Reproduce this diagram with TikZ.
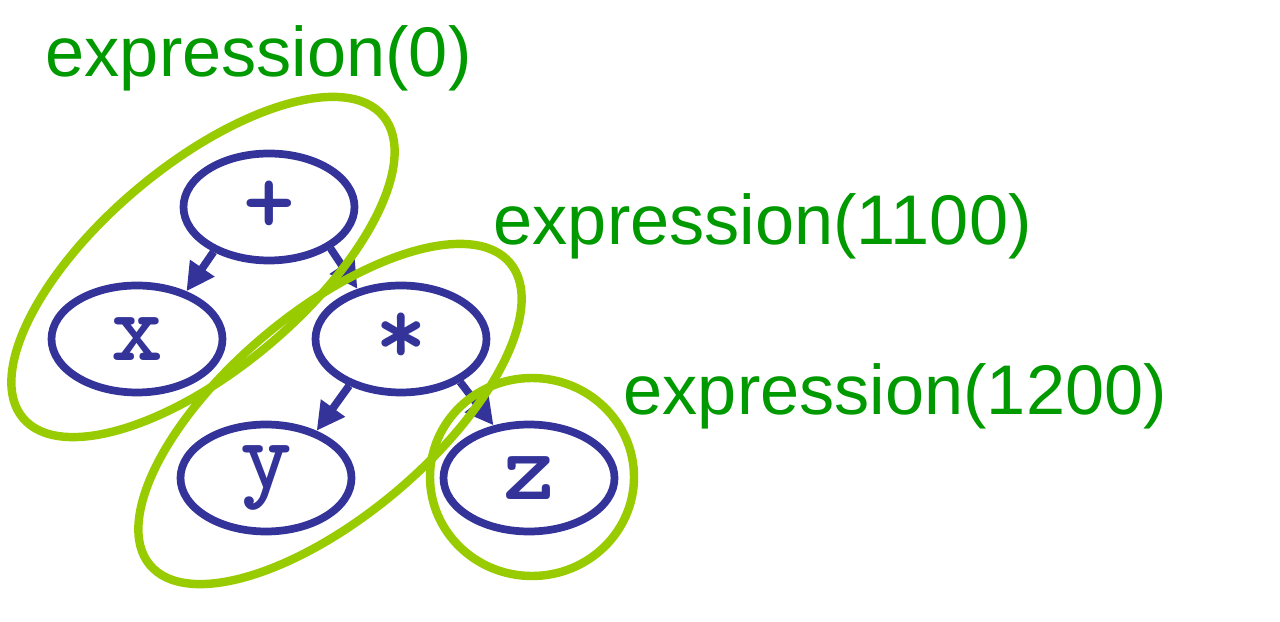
\documentclass[tikz,border=0pt]{standalone}
\usepackage{fontspec}
\setmainfont{Liberation Sans}
\usepackage{tikz}
\usetikzlibrary{shapes.geometric,arrows.meta}
\definecolor{nodeblue}{HTML}{333399}
\definecolor{ringgreen}{HTML}{99CC00}
\definecolor{labelgreen}{HTML}{009900}

\begin{document}
\begin{tikzpicture}[
	term/.style={draw=nodeblue, line width=2.2pt, ellipse, minimum width=1.71cm, minimum height=1.07cm, inner sep=0pt, text=nodeblue, font=\ttfamily\bfseries\fontsize{28}{28}\selectfont},
	ring/.style={draw=ringgreen, line width=2.4pt},
	exprlabel/.style={anchor=base west, inner sep=0pt, text=labelgreen, font=\fontsize{20}{20}\selectfont},
	child/.style={draw=nodeblue, line width=2.2pt, -{Triangle[length=2.8mm,width=2.8mm]}}
	]
			\useasboundingbox (0,0) rectangle (12.8,6.21);
			\node (plus) [term] at (2.69,4.14) {+};
			\node (x) [term] at (1.37,2.82) {x};
			\node (star) [term] at (4.01,2.82) {*};
			\node (y) [term] at (2.66,1.43) {y};
			\node (z) [term] at (5.29,1.43) {z};
			
			\path (plus.-141) edge [ child ] (x.44);
			\path (plus.-34) edge [ child ] (star.131);
			\path (star.-138) edge [ child ] (y.43);
			\path (star.-36) edge [ child ] (z.124);
			
			\draw [ ring, rotate around={40:(2.03,3.54)} ] (2.03,3.54) ellipse (2.35 and 1.02);
			\draw [ ring, rotate around={40:(3.30,2.07)} ] (3.30,2.07) ellipse (2.35 and 1.02);
			\draw [ ring ] (5.32,1.44) ellipse (1.02 and 0.99);
			
			\node (e0) [exprlabel] at (0.45,5.44) {expression(0)};
			\node (e1100) [exprlabel] at (4.93,3.76) {expression(1100)};
			\node (e1200) [exprlabel] at (6.23,2.06) {expression(1200)};
\end{tikzpicture}
\end{document}
